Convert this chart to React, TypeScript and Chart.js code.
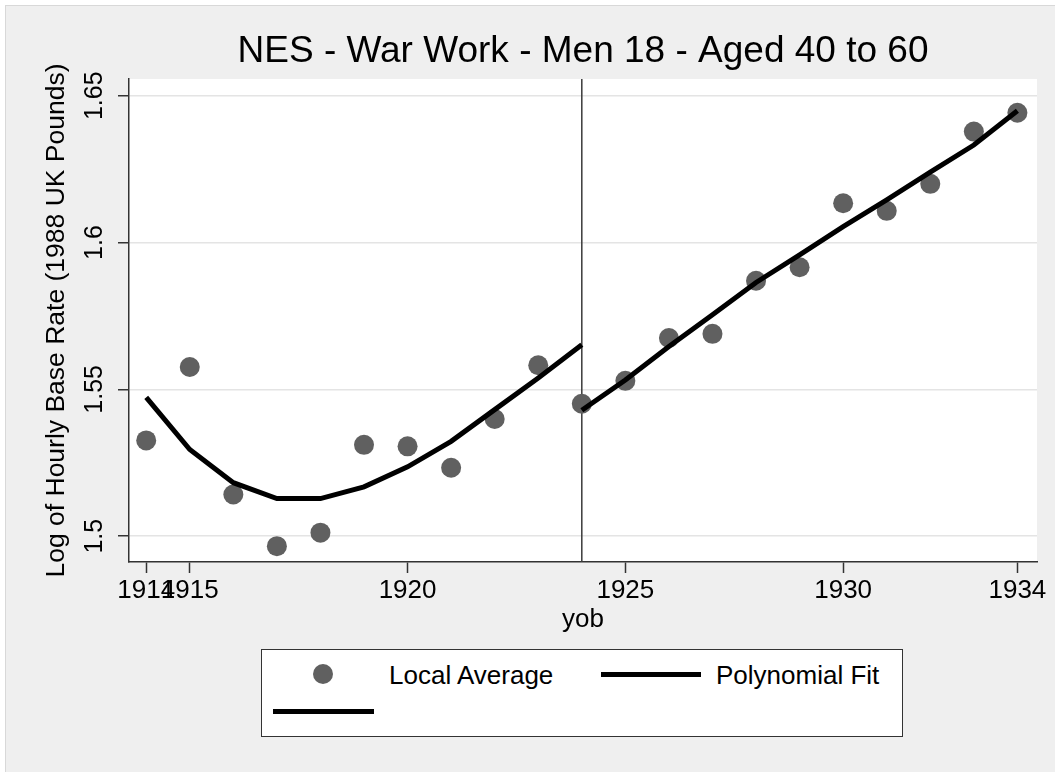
import React, { useEffect, useRef } from "react";
import { Chart, registerables } from "chart.js";

Chart.register(...registerables);

// ---- Data ----
const years = [1914, 1915, 1916, 1917, 1918, 1919, 1920, 1921, 1922, 1923, 1924, 1925, 1926, 1927, 1928, 1929, 1930, 1931, 1932, 1933, 1934];
const localAverage = [1.5326, 1.5576, 1.5142, 1.4966, 1.5012, 1.5311, 1.5306, 1.5233, 1.5399, 1.5582, 1.5451, 1.5529, 1.5675, 1.5689, 1.587, 1.5916, 1.6134, 1.6108, 1.62, 1.6378, 1.6442];

const fitYearsLeft = [1914, 1915, 1916, 1917, 1918, 1919, 1920, 1921, 1922, 1923, 1924];
const fitLeft = [1.5473, 1.5295, 1.5182, 1.5128, 1.5128, 1.5168, 1.5236, 1.5323, 1.5431, 1.5539, 1.5652];

const fitYearsRight = [1924, 1925, 1926, 1927, 1928, 1929, 1930, 1931, 1932, 1933, 1934];
const fitRight = [1.5429, 1.5532, 1.5646, 1.5754, 1.5864, 1.5958, 1.6054, 1.6145, 1.624, 1.6332, 1.6449];

const xTickValues = [1914, 1915, 1920, 1925, 1930, 1934];
const xTickLabels = ["1914", "1915", "1920", "1925", "1930", "1934"];
const yTickValues = [1.5, 1.55, 1.6, 1.65];
const yTickLabels = ["1.5", "1.55", "1.6", "1.65"];
const cutoffYear = 1924;

const xMin = 1913.605;
const xMax = 1934.45;
const yMin = 1.4912;
const yMax = 1.6557;

const titleText = "NES - War Work - Men 18 - Aged 40 to 60";
const xTitle = "yob";
const yTitle = "Log of Hourly Base Rate (1988 UK Pounds)";
const legendLabels = ["Local Average", "Polynomial Fit"];

const FONT = '"Liberation Sans", Arial, Helvetica, sans-serif';
const DOT = "#606060";
const AXIS = "#333333";

const stataPlugin = {
  id: "stataDecor",
  beforeDraw(chart: any) {
    const { ctx, chartArea: a } = chart;
    ctx.save();
    ctx.fillStyle = "#ffffff";
    ctx.fillRect(a.left, a.top, a.right - a.left, a.bottom - a.top);
    ctx.restore();
  },
  beforeDatasetsDraw(chart: any) {
    const { ctx, chartArea: a } = chart;
    const x = chart.scales.x.getPixelForValue(cutoffYear);
    ctx.save();
    ctx.strokeStyle = "#3a3a3a";
    ctx.lineWidth = 1.5;
    ctx.beginPath();
    ctx.moveTo(x, a.top);
    ctx.lineTo(x, a.bottom);
    ctx.stroke();
    ctx.restore();
  },
  afterDraw(chart: any) {
    const { ctx } = chart;
    const ys = chart.scales.y;
    ctx.save();
    ctx.font = `25px ${FONT}`;
    ctx.fillStyle = "#000";
    ctx.textAlign = "center";
    ctx.textBaseline = "middle";
    yTickValues.forEach((v, i) => {
      const py = ys.getPixelForValue(v);
      ctx.save();
      ctx.translate(ys.right - 33.5, py);
      ctx.rotate(-Math.PI / 2);
      ctx.fillText(yTickLabels[i], 0, 0);
      ctx.restore();
    });
    ctx.restore();
  },
};

export default function App() {
  const canvasRef = useRef<HTMLCanvasElement | null>(null);

  useEffect(() => {
    document.body.style.margin = "0";
    const canvas = canvasRef.current;
    if (!canvas) return;
    const chart = new Chart(canvas, {
      type: "scatter",
      data: {
        datasets: [
          {
            label: legendLabels[0],
            data: years.map((y, i) => ({ x: y, y: localAverage[i] })),
            showLine: false,
            pointRadius: 10,
            pointHoverRadius: 10,
            pointBackgroundColor: DOT,
            pointBorderWidth: 0,
            backgroundColor: DOT,
            borderColor: DOT,
            order: 2,
          },
          {
            label: legendLabels[1],
            data: fitYearsLeft.map((y, i) => ({ x: y, y: fitLeft[i] })),
            showLine: true,
            borderColor: "#000",
            borderWidth: 5,
            pointRadius: 0,
            pointHoverRadius: 0,
            tension: 0,
            order: 1,
          },
          {
            label: "",
            data: fitYearsRight.map((y, i) => ({ x: y, y: fitRight[i] })),
            showLine: true,
            borderColor: "#000",
            borderWidth: 5,
            pointRadius: 0,
            pointHoverRadius: 0,
            tension: 0,
            order: 1,
          },
        ],
      },
      options: {
        responsive: false,
        animation: false,
        devicePixelRatio: 1,
        layout: { padding: { left: 5, right: 18, top: 0, bottom: 130 } },
        plugins: {
          legend: { display: false },
          tooltip: { enabled: false },
          title: {
            display: true,
            text: titleText,
            fullSize: false,
            color: "#000",
            font: { family: FONT, size: 37, weight: "normal", lineHeight: 1 },
            padding: { top: 33, bottom: 9 },
          },
        },
        scales: {
          x: {
            type: "linear",
            min: xMin,
            max: xMax,
            afterBuildTicks: (scale: any) => {
              scale.ticks = xTickValues.map((v) => ({ value: v }));
            },
            afterFit: (scale: any) => {
              scale.height = 80;
            },
            ticks: {
              autoSkip: false,
              maxRotation: 0,
              minRotation: 0,
              includeBounds: false,
              color: "#000",
              padding: 4.6,
              font: { family: FONT, size: 26, lineHeight: 1 },
              callback: (v: any) => {
                const i = xTickValues.indexOf(Number(v));
                return i >= 0 ? xTickLabels[i] : "";
              },
            },
            grid: {
              display: true,
              drawOnChartArea: false,
              drawTicks: true,
              tickLength: 11,
              tickColor: AXIS,
              tickWidth: 1.5,
            },
            border: { display: true, color: AXIS, width: 1.5 },
            title: {
              display: true,
              text: xTitle,
              color: "#000",
              font: { family: FONT, size: 26, lineHeight: 1 },
              padding: { top: 0, bottom: 9 },
            },
          },
          y: {
            type: "linear",
            min: yMin,
            max: yMax,
            afterBuildTicks: (scale: any) => {
              scale.ticks = yTickValues.map((v) => ({ value: v }));
            },
            afterFit: (scale: any) => {
              scale.width = 124;
            },
            ticks: { display: false, includeBounds: false },
            grid: {
              display: true,
              drawOnChartArea: true,
              color: "#e4e4e4",
              lineWidth: 1.5,
              drawTicks: true,
              tickLength: 11,
              tickColor: AXIS,
              tickWidth: 1.5,
            },
            border: { display: true, color: AXIS, width: 1.5 },
            title: {
              display: true,
              text: yTitle,
              color: "#000",
              font: { family: FONT, size: 26.5, lineHeight: 1 },
              padding: { top: 38.5, bottom: 0 },
            },
          },
        },
      },
      plugins: [stataPlugin],
    } as any);
    return () => chart.destroy();
  }, []);

  const textStyle: React.CSSProperties = {
    position: "absolute",
    fontFamily: FONT,
    fontSize: 26,
    lineHeight: "26px",
    color: "#000",
    whiteSpace: "nowrap",
  };

  return (
    <div style={{ position: "fixed", left: 0, top: 0, width: 1055, height: 772, background: "#fff", overflow: "hidden" }}>
      <div
        style={{
          position: "absolute",
          left: 5,
          top: 5,
          right: 0,
          bottom: 0,
          background: "#efefef",
          borderLeft: "1px solid #d8d8d8",
          borderTop: "1px solid #d8d8d8",
        }}
      />
      <canvas ref={canvasRef} width={1055} height={772} style={{ position: "absolute", left: 0, top: 0, width: 1055, height: 772 }} />
      <div
        style={{
          position: "absolute",
          left: 261,
          top: 649,
          width: 642,
          height: 88,
          boxSizing: "border-box",
          border: "1.5px solid #333",
          background: "#fff",
        }}
      />
      <div style={{ position: "absolute", left: 313.3, top: 664.3, width: 20, height: 20, borderRadius: "50%", background: DOT }} />
      <div style={{ ...textStyle, left: 389, top: 661.5 }}>{legendLabels[0]}</div>
      <div style={{ position: "absolute", left: 600.7, top: 671.8, width: 100, height: 5, background: "#000" }} />
      <div style={{ ...textStyle, left: 716, top: 661.5 }}>{legendLabels[1]}</div>
      <div style={{ position: "absolute", left: 273.3, top: 709.2, width: 100.7, height: 5, background: "#000" }} />
    </div>
  );
}
